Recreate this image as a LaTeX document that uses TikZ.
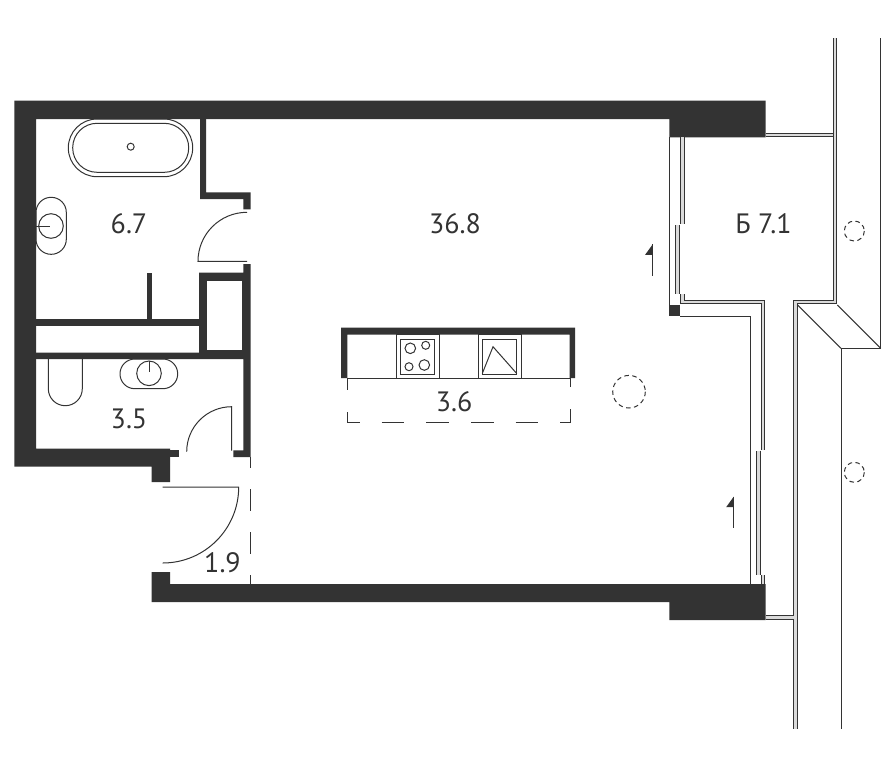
\documentclass[tikz,border=0pt]{standalone}
\usepackage{fontspec}
\setmainfont{PT Sans}
\definecolor{wallc}{HTML}{333333}
\definecolor{railc}{HTML}{DADADA}
\tikzset{
    wall/.style={fill=wallc, draw=none},
    thin line/.style={draw=wallc, line width=0.75pt},
    rail/.style={draw=wallc, line width=0.7pt, double=railc, double distance=2.2pt},
    mark dash/.style={draw=wallc, line width=0.75pt, dash pattern=on 3.4pt off 2.6pt},
    area/.style={text=wallc, inner sep=0pt, font=\fontsize{21}{22}\selectfont},
}
\begin{document}
\begin{tikzpicture}[x=0.75pt, y=-0.75pt]
    \useasboundingbox (0, 0) rectangle (895, 768);
    % walls
    \fill[wall] (14.3, 100.7)--(765.7, 100.7)--(765.7, 137.3)--(669.3, 137.3)--(669.3, 119)--(36, 119)--(36, 448.7)--(170, 448.7)--(170, 482)--(151.7, 482)--(151.7, 466.7)--(14.3, 466.7)--cycle;
    \fill[wall] (151.7, 572)--(170, 572)--(170, 584)--(765.7, 584)--(765.7, 620)--(669.3, 620)--(669.3, 602.2)--(151.7, 602.2)--cycle;
    \fill[wall] (170, 450.3) rectangle (178.7, 457);
    % partitions
    \fill[wall] (200, 119)--(206, 119)--(206, 192.3)--(250.7, 192.3)--(250.7, 209.3)--(243.3, 209.3)--(243.3, 199)--(200, 199)--cycle;
    \fill[wall] (243.3, 264)--(250.7, 264)--(250.7, 457)--(233.3, 457)--(233.3, 450.3)--(243.3, 450.3)--(243.3, 359)--(36, 359)--(36, 352.5)--(199, 352.5)--(199, 272.7)--(243.3, 272.7)--cycle;
    \fill[white] (207.3, 281.3) rectangle (242.3, 350);
    \fill[wall] (36, 318.7) rectangle (199, 326);
    \fill[wall] (147, 272.7) rectangle (151.7, 318.7);
    \fill[wall] (669.3, 305.3) rectangle (680, 316);
    % doors
    \draw[thin line] (247, 212.3) arc[start angle=-90, end angle=-180, radius=49]--(247, 261.3);
    \draw[thin line] (186.7, 451.7) arc[start angle=180, end angle=270, radius=45]--(231.7, 450.7);
    \draw[thin line] (162.7, 487)--(238.7, 487) arc[start angle=0, end angle=90, radius=76];
    \draw[thin line, dash pattern=on 16.5pt off 15.75pt, dash phase=8.25pt] (250.3, 457)--(250.3, 584);
    % bath
    \draw[thin line, rounded corners=21.6pt] (68.3, 119) rectangle (192.7, 176.7);
    \draw[thin line, rounded corners=18.3pt] (72.7, 123.3) rectangle (188.7, 172.3);
    \draw[thin line] (130.7, 146.7) circle (3.5);
    % sinks and toilet
    \draw[thin line, rounded corners=11.3pt] (36, 197.3) rectangle (66.3, 254.3);
    \draw[thin line] (51, 226) circle (12.3);
    \draw[thin line] (36, 226)--(50, 226);
    \draw[thin line, rounded corners=11.1pt] (120, 359) rectangle (177.7, 388.7);
    \draw[thin line] (149, 373.3) circle (12.3);
    \draw[thin line] (149, 361)--(149, 372);
    \draw[thin line] (48.3, 359)--(48.3, 388.7) arc[start angle=180, end angle=0, radius=17]--(82.3, 359);
    % kitchen
    \fill[wall] (341, 327.7)--(575, 327.7)--(575, 378)--(569.7, 378)--(569.7, 334.7)--(347.3, 334.7)--(347.3, 378)--(341, 378)--cycle;
    \draw[thin line] (347, 378)--(570, 378);
    \foreach \x in {396, 478} {
        \draw[thin line] (\x, 334.7) rectangle (\x+43, 378);
        \draw[thin line] (\x+4.3, 339.3) rectangle (\x+38.7, 374);
    }
    \foreach \x/\y/\r in {410.3/348.3/5.3, 425.7/345.3/4, 409/366.7/4, 424.3/365/5.3} {
        \draw[thin line] (\x, \y) circle (\r);
    }
    \draw[thin line] (482.3, 373.5)--(493, 346.7)--(516.7, 373.5);
    \draw[thin line, dash pattern=on 16.9pt off 16.6pt, dash phase=8pt] (347, 378)--(347, 422)--(570, 422)--(570, 378);
    % columns
    \foreach \x/\y/\r in {629/391.7/16.3, 854.3/231/10, 854.3/472.3/10} {
        \draw[mark dash] (\x, \y) circle (\r);
    }
    % balcony
    \draw[rail] (765.5, 135)--(835, 135);
    \draw[rail] (835, 38.3)--(835, 302)--(795.5, 302)--(795.5, 729.3);
    \draw[rail] (765.5, 617.3)--(793.5, 617.3);
    \draw[rail] (682.8, 137.3)--(682.8, 224);
    \draw[rail] (677.7, 225)--(677.7, 294);
    \draw[rail] (682.8, 294)--(682.8, 302)--(763, 302)--(763, 450);
    \draw[rail] (758.3, 450.7)--(758.3, 575);
    \draw[rail] (763, 575)--(763, 584);
    \draw[thin line] (669.3, 137)--(669.3, 305.3);
    \draw[thin line] (680, 316)--(750, 316)--(750, 584);
    \draw[thin line] (880.7, 38.3)--(880.7, 348.3)--(841, 348.3)--(841, 729.3);
    \draw[thin line] (837.3, 305)--(880.7, 348.3);
    \draw[thin line] (797.7, 305)--(841, 348.3);
    % window marks
    \foreach \x/\y in {652.7/244.3, 733.7/496.7} {
        \draw[thin line] (\x, \y)--(\x, \y+31.3);
        \fill[wall] (\x, \y)--(\x-7.6, \y+10.5)--(\x, \y+10.5)--cycle;
    }
    % areas
    \node[area] (bath) at (129, 224) {6.7};
    \node[area] (room) at (455, 224) {36.8};
    \node[area] (balcony) at (763.5, 224) {Б 7.1};
    \node[area] (kitchen) at (454, 402) {3.6};
    \node[area] (toilet) at (129, 419) {3.5};
    \node[area] (hall) at (222.5, 563) {1.9};
\end{tikzpicture}
\end{document}
